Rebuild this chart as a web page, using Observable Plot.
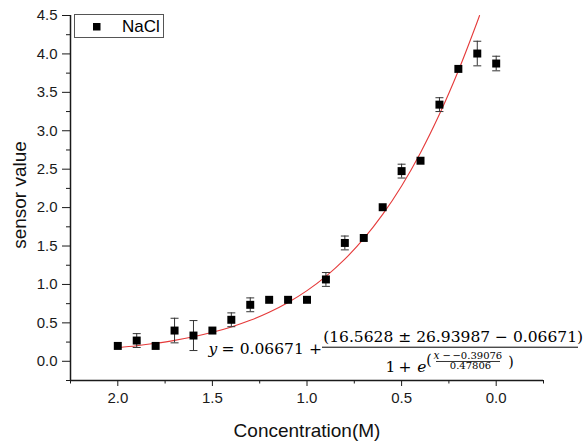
<!DOCTYPE html>
<html>
<head>
<meta charset="utf-8">
<script src="https://cdn.jsdelivr.net/npm/d3@7"></script>
<script src="https://cdn.jsdelivr.net/npm/@observablehq/plot@0.6"></script>
<style>
  html, body { margin: 0; padding: 0; background: #fff; }
  #chart { width: 586px; height: 441px; }
</style>
</head>
<body>
<div id="chart"></div>
<script>
// ---- data ----
const concentration = [2.0, 1.9, 1.8, 1.7, 1.6, 1.5, 1.4, 1.3, 1.2, 1.1, 1.0, 0.9, 0.8, 0.7, 0.6, 0.5, 0.4, 0.3, 0.2, 0.1, 0.0];
const sensorValue   = [0.20, 0.27, 0.20, 0.40, 0.335, 0.40, 0.54, 0.735, 0.80, 0.80, 0.80, 1.065, 1.54, 1.605, 2.005, 2.475, 2.61, 3.34, 3.805, 4.005, 3.875];
const sensorError   = [0, 0.09, 0, 0.16, 0.195, 0, 0.09, 0.09, 0, 0, 0, 0.09, 0.09, 0, 0, 0.09, 0, 0.09, 0, 0.16, 0.095];

// fitted curve, as drawn in the reference
const fitX = [2.0, 1.9, 1.8, 1.7, 1.6, 1.5, 1.4, 1.3, 1.2, 1.1, 1.0, 0.9, 0.8, 0.7, 0.6, 0.5, 0.4, 0.3, 0.2, 0.1, 0.088];
const fitY = [0.177, 0.202, 0.234, 0.272, 0.319, 0.377, 0.447, 0.533, 0.638, 0.765, 0.920, 1.106, 1.329, 1.595, 1.911, 2.282, 2.715, 3.214, 3.781, 4.418, 4.50];

const xMajorTicks = [2.0, 1.5, 1.0, 0.5, 0.0];
const xMinorTicks = [2.25, 1.75, 1.25, 0.75, 0.25, -0.25];
const yMajorTicks = [0.0, 0.5, 1.0, 1.5, 2.0, 2.5, 3.0, 3.5, 4.0, 4.5];
const yMinorTicks = [-0.25, 0.25, 0.75, 1.25, 1.75, 2.25, 2.75, 3.25, 3.75, 4.25];

const seriesName = "NaCl";
const xLabel = "Concentration(M)";
const yLabel = "sensor value";

// equation text pieces
const eqY = "y";
const eqEq = "=";
const eqConst = "0.06671";
const eqPlus = "+";
const eqNum = "(16.5628 \u00B1 26.93987 \u2212 0.06671)";
const eqOne = "1";
const eqE = "e";
const eqExpX = "x";
const eqMinus = "\u2212";
const eqExpShift = "\u22120.39076";
const eqExpDen = "0.47806";

// ---- build table ----
const points = concentration.map((c, i) => ({c, v: sensorValue[i], e: sensorError[i]}));
const bars = points.filter(d => d.e > 0);
const fit = fitX.map((x, i) => ({x, y: fitY[i]}));

const capSymbol = {
  draw(ctx, size) { const w = Math.sqrt(size); ctx.moveTo(-w / 2, 0); ctx.lineTo(w / 2, 0); }
};

const serif = "DejaVu Serif, Liberation Serif, serif";
const ink = "#1a1a1a";
const eqSize = 15.5;
const expSize = 10;

function eqText(str, x, y, opts = {}) {
  return Plot.text([str], {x, y, text: d => d, textAnchor: "start", lineAnchor: "bottom",
    fontFamily: serif, fontSize: eqSize, fill: "#000", ...opts});
}

const plot = Plot.plot({
  width: 586,
  height: 441,
  marginTop: 15,
  marginRight: 43,
  marginBottom: 61,
  marginLeft: 70,
  style: {fontFamily: "Liberation Sans, Arial, sans-serif", fontSize: "15px", color: ink, background: "#fff"},
  x: {domain: [2.25, -0.25]},
  y: {domain: [-0.25, 4.5]},
  marks: [
    Plot.axisX({ticks: xMajorTicks, tickFormat: d3.format(".1f"), tickSize: 6, tickPadding: 6, label: null, stroke: ink}),
    Plot.axisX({ticks: xMinorTicks, tickSize: 3.5, text: null, label: null, stroke: ink}),
    Plot.axisY({ticks: yMajorTicks, tickFormat: d3.format(".1f"), tickSize: 8, tickPadding: 5, label: null, stroke: ink}),
    Plot.axisY({ticks: yMinorTicks, tickSize: 4, text: null, label: null, stroke: ink}),
    Plot.ruleY([-0.25], {stroke: ink, strokeWidth: 1.5}),
    Plot.ruleX([2.25], {stroke: ink, strokeWidth: 1.5}),
    Plot.text([xLabel], {frameAnchor: "bottom", textAnchor: "middle", lineAnchor: "bottom", dy: 56, fontSize: 19, fill: "#111"}),
    Plot.text([yLabel], {frameAnchor: "left", textAnchor: "middle", lineAnchor: "bottom", rotate: -90, dx: -45, dy: -3, fontSize: 19, fill: "#111"}),
    Plot.line(fit, {x: "x", y: "y", stroke: "#e53a3a", strokeWidth: 1.1, curve: "catmull-rom"}),
    Plot.ruleX(bars, {x: "c", y1: d => d.v - d.e, y2: d => d.v + d.e, stroke: "#333", strokeWidth: 1}),
    Plot.dot(bars, {x: "c", y: d => d.v + d.e, symbol: capSymbol, r: 4.5, stroke: "#333", strokeWidth: 1, fill: "none"}),
    Plot.dot(bars, {x: "c", y: d => d.v - d.e, symbol: capSymbol, r: 4.5, stroke: "#333", strokeWidth: 1, fill: "none"}),
    Plot.dot(points, {x: "c", y: "v", symbol: "square", r: 4.5, fill: "#000", stroke: "none"}),
    // equation annotation (placed in data coordinates)
    eqText(eqY, 1.5206, 0.101, {fontStyle: "italic"}),
    eqText(eqEq, 1.452, 0.101),
    eqText(eqConst, 1.356, 0.101),
    eqText(eqPlus, 0.99, 0.101),
    eqText(eqNum, 0.9146, 0.2575),
    Plot.ruleY([0.1833], {x1: 0.918, x2: -0.435, stroke: "#000", strokeWidth: 1}),
    eqText(eqOne, 0.585, -0.139),
    eqText(eqPlus, 0.5164, -0.139),
    eqText(eqE, 0.4175, -0.139, {fontStyle: "italic"}),
    Plot.text(["("], {x: 0.355, y: 0.0102, text: d => d, textAnchor: "middle", lineAnchor: "middle", fontFamily: serif, fontSize: 14, fill: "#000"}),
    Plot.text([")"], {x: -0.0782, y: -0.0123, text: d => d, textAnchor: "middle", lineAnchor: "middle", fontFamily: serif, fontSize: 14, fill: "#000"}),
    eqText(eqExpX, 0.3314, 0.032, {fontStyle: "italic", fontSize: expSize + 0.5}),
    eqText(eqMinus, 0.2838, 0.032, {fontSize: expSize}),
    eqText(eqExpShift, 0.231, 0.032, {fontSize: expSize}),
    Plot.ruleY([-0.0027], {x1: 0.3155, x2: -0.0228, stroke: "#000", strokeWidth: 0.8}),
    eqText(eqExpDen, 0.136, -0.098, {fontSize: expSize, textAnchor: "middle"})
  ]
});

document.getElementById("chart").appendChild(plot);

// legend box, inside the plot at top-left
const svg = d3.select(plot);
const lg = svg.append("g").attr("class", "legend").attr("text-anchor", "start");
lg.append("rect").attr("x", 74.5).attr("y", 14.5).attr("width", 89).attr("height", 23)
  .attr("fill", "#fff").attr("stroke", "#555").attr("stroke-width", 1);
lg.append("rect").attr("x", 93).attr("y", 23).attr("width", 7.5).attr("height", 7.5).attr("fill", "#000");
lg.append("text").attr("x", 122).attr("y", 32.3).attr("font-size", 17).attr("fill", "#000")
  .attr("text-anchor", "start")
  .attr("font-family", "Liberation Sans, Arial, sans-serif").text(seriesName);
</script>
</body>
</html>
